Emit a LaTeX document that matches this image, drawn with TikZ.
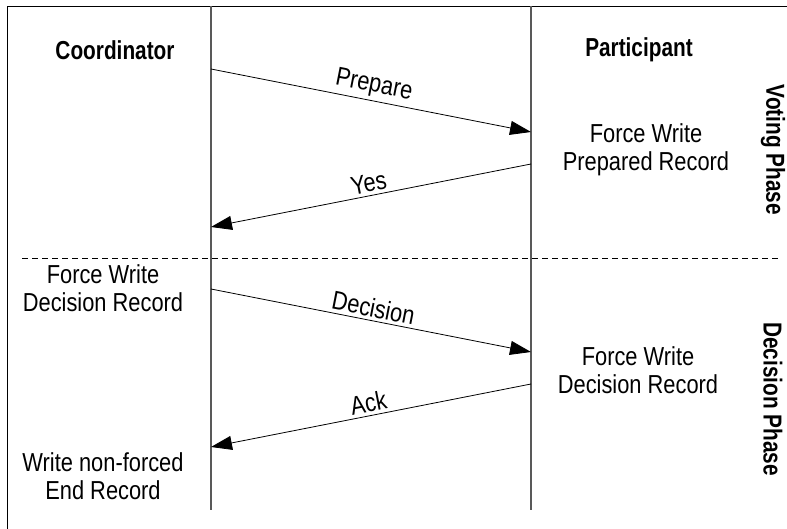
\documentclass[tikz,border=0pt]{standalone}
\usepackage{fontspec}
\setmainfont{Liberation Sans}[FakeStretch=0.84, BoldFeatures={FakeStretch=0.8}]
\usetikzlibrary{arrows.meta}

\begin{document}
\begin{tikzpicture}[x=1pt, y=-1pt,
		lifeline/.style={line width=1.2pt, draw=black!65},
		msg/.style={line width=0.8pt, -{Triangle[length=21pt, width=14pt]}},
		lbl/.style={font=\fontsize{26}{28}\selectfont, align=center, inner sep=1pt},
		head/.style={font=\fontsize{26}{28}\selectfont\bfseries, inner sep=0pt},
		msglbl/.style={font=\fontsize{26}{28}\selectfont, sloped, above, inner sep=3pt}]

			\useasboundingbox (0,0) rectangle (787,529);

			% Frame and lifelines
			\draw[line width=0.8pt] (7,529) -- (7,6) -- (787,6);
			\coordinate (Ctop) at (211,6);
			\coordinate (Cbot) at (211,510);
			\coordinate (Ptop) at (531,6);
			\coordinate (Pbot) at (531,510);
			\draw[lifeline] (Ctop) -- (Cbot);
			\draw[lifeline] (Ptop) -- (Pbot);

			% Phase separator
			\coordinate (SepL) at (22,258);
			\coordinate (SepR) at (780,258);
			\draw[line width=0.6pt, dash pattern=on 6pt off 4pt] (SepL) -- (SepR);

			% Define nodes with their coordinates
			\node[head] (coord) at (115,50) {Coordinator};
			\node[head] (part) at (639,50) {Participant};
			\node[lbl] (prep) at (646,150) {Force Write\\Prepared Record};
			\node[lbl] (cdec) at (103,288) {Force Write\\Decision Record};
			\node[lbl] (pdec) at (638,370) {Force Write\\Decision Record};
			\node[lbl] (cend) at (103,476) {Write non-forced\\End Record};
			\node[head, rotate=-90] (vote) at (773,150) {Voting Phase};
			\node[head, rotate=-90] (decp) at (773,399) {Decision Phase};

			% Message end points on the lifelines
			\coordinate (c1) at (211,69);
			\coordinate (p1) at (531,132);
			\coordinate (p2) at (531,164);
			\coordinate (c2) at (211,227);
			\coordinate (c3) at (211,289);
			\coordinate (p3) at (531,352);
			\coordinate (p4) at (531,384);
			\coordinate (c4) at (211,447);

			% Draw messages with labels
			\draw[msg] (c1) -- (p1) node[msglbl, midway] {Prepare};
			\draw[msg] (p2) -- (c2) node[msglbl, midway] {Yes};
			\draw[msg] (c3) -- (p3) node[msglbl, midway] {Decision};
			\draw[msg] (p4) -- (c4) node[msglbl, midway] {Ack};

		\end{tikzpicture}
\end{document}
